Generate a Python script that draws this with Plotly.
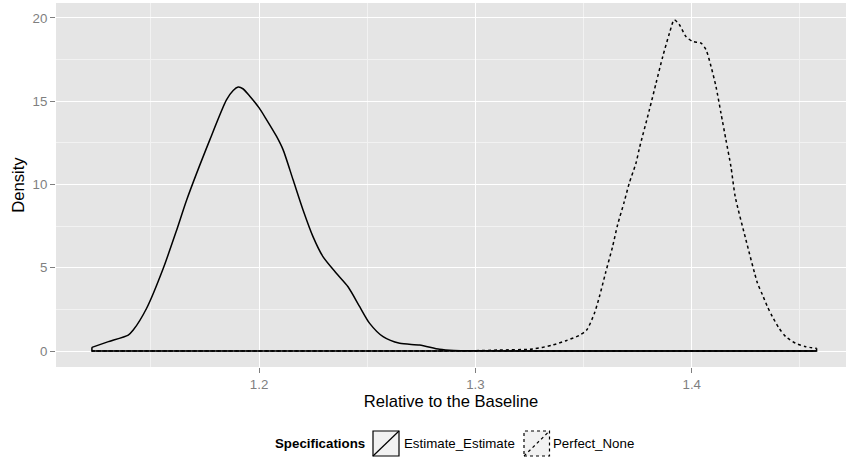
import plotly.graph_objects as go

# ---------------- data ----------------
series_names = ["Estimate_Estimate", "Perfect_None"]
series_dash = ["solid", "dot"]

est_x = [1.1227, 1.1300, 1.1395, 1.1418, 1.1480, 1.1557, 1.1619, 1.1665, 1.1772,
         1.1849, 1.1880, 1.1903, 1.1925, 1.1957, 1.2000, 1.2034, 1.2080, 1.2111,
         1.2157, 1.2203, 1.2249, 1.2295, 1.2357, 1.2411, 1.2465, 1.2511, 1.2573,
         1.2650, 1.2742, 1.2834, 1.2900, 1.3000, 1.3500, 1.4000, 1.4577]
est_y = [0.22, 0.55, 0.96, 1.26, 2.57, 4.97, 7.27, 9.07, 12.68,
         15.08, 15.65, 15.85, 15.75, 15.30, 14.60, 13.90, 12.90, 12.08,
         10.28, 8.47, 6.87, 5.67, 4.67, 3.86, 2.66, 1.66, 0.86,
         0.46, 0.36, 0.10, 0.03, 0.01, 0.0, 0.0, 0.0]

per_x = [1.1227, 1.2000, 1.3000, 1.3110, 1.3265, 1.3357, 1.3419, 1.3480, 1.3514,
         1.3550, 1.3573, 1.3601, 1.3634, 1.3657, 1.3688, 1.3711, 1.3742, 1.3758,
         1.3804, 1.3835, 1.3866, 1.3897, 1.3919, 1.3943, 1.3973, 1.4004, 1.4043,
         1.4066, 1.4089, 1.4112, 1.4135, 1.4158, 1.4181, 1.4201, 1.4250, 1.4304,
         1.4327, 1.4350, 1.4373, 1.4404, 1.4435, 1.4481, 1.4527, 1.4577]
per_y = [0.0, 0.0, 0.02, 0.06, 0.12, 0.36, 0.62, 0.94, 1.26,
         2.27, 3.26, 4.67, 6.27, 7.57, 8.97, 10.08, 11.28, 12.18,
         14.48, 16.09, 17.69, 19.09, 19.89, 19.59, 18.89, 18.59, 18.49,
         18.09, 17.09, 15.88, 14.28, 12.68, 11.08, 9.27, 6.70, 4.07,
         3.37, 2.66, 2.06, 1.36, 0.86, 0.46, 0.26, 0.16]

x_tickvals = [1.2, 1.3, 1.4]
x_ticktext = ["1.2", "1.3", "1.4"]
y_tickvals = [0, 5, 10, 15, 20]
y_ticktext = ["0", "5", "10", "15", "20"]

x_title = "Relative to the Baseline"
y_title = "Density"
legend_title = "Specifications"

# ---------------- figure ----------------
W, H = 846, 461
ML, MR, MT, MB = 56, 0, 3, 94
PW, PH = W - ML - MR, H - MT - MB


def px(xp):
    return (xp - ML) / PW


def py(yp):
    return (H - MB - yp) / PH


fig = go.Figure()
for xs, ys, dash, name in [(est_x, est_y, series_dash[0], series_names[0]),
                           (per_x, per_y, series_dash[1], series_names[1])]:
    # smooth density curve
    fig.add_trace(go.Scatter(x=xs, y=ys, mode="lines", name=name,
                             line=dict(color="black", width=1.5, dash=dash,
                                       shape="spline", smoothing=0.7),
                             showlegend=False, hoverinfo="skip"))
    # polygon closure along the baseline (like ggplot's geom_density outline)
    fig.add_trace(go.Scatter(x=[xs[-1], xs[-1], xs[0], xs[0]],
                             y=[ys[-1], 0, 0, ys[0]], mode="lines",
                             line=dict(color="black", width=1.5, dash=dash),
                             showlegend=False, hoverinfo="skip"))

tickfont = dict(family="Liberation Sans, Arial, sans-serif", size=13.3, color="#7F7F7F")
titlefont = dict(family="Liberation Sans, Arial, sans-serif", size=16.6, color="black")

fig.update_layout(
    width=W, height=H,
    margin=dict(l=ML, r=MR, t=MT, b=MB, pad=0),
    paper_bgcolor="white",
    plot_bgcolor="#E5E5E5",
    showlegend=False,
    xaxis=dict(range=[1.1061, 1.4713], tickmode="array", tickvals=x_tickvals,
               ticktext=x_ticktext, ticks="outside", ticklen=5, tickwidth=1,
               tickcolor="#7F7F7F", tickfont=tickfont, showline=False,
               gridcolor="white", gridwidth=1.2, zeroline=False,
               minor=dict(tickmode="array", tickvals=[1.15, 1.25, 1.35, 1.45],
                          showgrid=True, gridcolor="#F2F2F2", gridwidth=0.6),
               title=dict(text=x_title, font=titlefont, standoff=4)),
    yaxis=dict(range=[-0.96, 20.9], tickmode="array", tickvals=y_tickvals,
               ticktext=y_ticktext, ticks="outside", ticklen=5, tickwidth=1,
               tickcolor="#7F7F7F", tickfont=tickfont, showline=False,
               gridcolor="white", gridwidth=1.2, zeroline=False,
               minor=dict(tickmode="array", tickvals=[2.5, 7.5, 12.5, 17.5],
                          showgrid=True, gridcolor="#F2F2F2", gridwidth=0.6),
               title=dict(text=y_title, font=titlefont, standoff=3)),
)

# ---------------- custom ggplot-style legend ----------------
leg_font = dict(family="Liberation Sans, Arial, sans-serif", size=13.3, color="black")
ky0, ky1 = 431, 456
kyc = (ky0 + ky1) / 2
fig.add_annotation(x=px(367), y=py(kyc), xref="paper", yref="paper",
                   text="<b>" + legend_title + "</b>", showarrow=False,
                   xanchor="right", yanchor="middle", font=leg_font)
keys = [(373, 399, 401.5), (524, 549.5, 550.5)]
for (kx0, kx1, tx), name, dash in zip(keys, series_names, series_dash):
    fig.add_shape(type="rect", xref="paper", yref="paper",
                  x0=px(kx0), x1=px(kx1), y0=py(ky1), y1=py(ky0),
                  fillcolor="#F2F2F2", line=dict(color="black", width=1.2, dash=dash))
    fig.add_shape(type="line", xref="paper", yref="paper",
                  x0=px(kx0), x1=px(kx1), y0=py(ky1), y1=py(ky0),
                  line=dict(color="black", width=1.2, dash=dash))
    fig.add_annotation(x=px(tx), y=py(kyc), xref="paper", yref="paper",
                       text=name, showarrow=False, xanchor="left",
                       yanchor="middle", font=leg_font)

fig.write_html("out.html")
